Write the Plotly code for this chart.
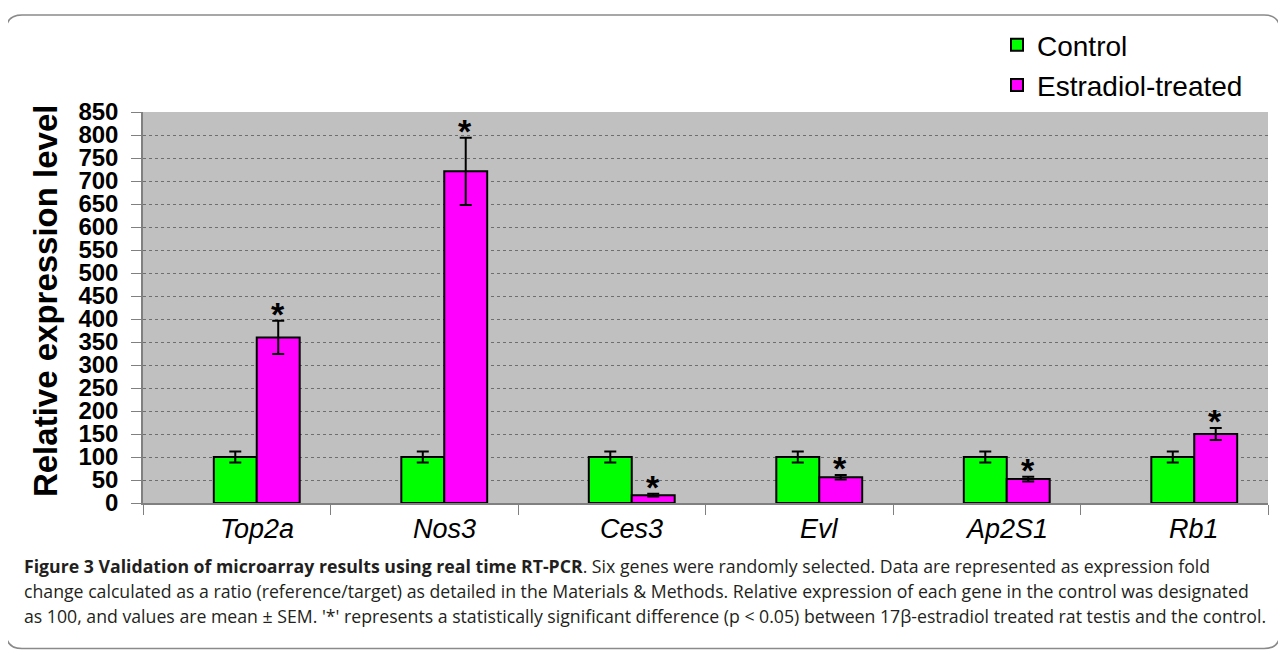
import plotly.graph_objects as go

genes = ["Top2a", "Nos3", "Ces3", "Evl", "Ap2S1", "Rb1"]
control = [100, 100, 100, 100, 100, 100]
control_err = [12, 12, 12, 12, 12, 12]
estradiol = [360, 721, 17, 56, 52, 150]
estradiol_err = [36, 73, 3, 5, 5, 13]
y_ticks = list(range(0, 851, 50))

O = 8  # page body margin
W, H = 1286 - O, 659 - O
# plot area in page pixels
L, R, T, B = 143, 1268, 108, 503
CAT = (R - L) / len(genes)       # pixels per category
BARW = 0.229                      # bar width in category units
SHIFT = 20                        # bars sit right of category centre (px)
sh = SHIFT / CAT


def px(x):
    return (x - L) / (R - L)


def py(y):
    return (B - y) / (B - T)


fig = go.Figure()
fig.add_trace(go.Bar(
    x=genes, y=control, name="Control", legendgroup="a",
    width=BARW, offset=sh - BARW,
    marker=dict(color="#00ff00", line=dict(color="black", width=2)),
    error_y=dict(type="data", array=control_err, color="black", thickness=2, width=6),
))
fig.add_trace(go.Bar(
    x=genes, y=estradiol, name="Estradiol-treated", legendgroup="b",
    width=BARW, offset=sh,
    marker=dict(color="#ff00ff", line=dict(color="black", width=2)),
    error_y=dict(type="data", array=estradiol_err, color="black", thickness=2, width=6),
))

for g, v, e in zip(genes, estradiol, estradiol_err):
    fig.add_annotation(x=g, y=v + e, text="<b>*</b>", showarrow=False,
                       xshift=SHIFT + 21, yshift=7, yanchor="middle",
                       font=dict(size=34, color="black", family="Liberation Sans, Arial"))

for g in genes:
    fig.add_annotation(x=g, y=0, text="<i>%s</i>" % g, showarrow=False,
                       xshift=SHIFT, yshift=-9, yanchor="top",
                       font=dict(size=27, color="black", family="Liberation Sans, Arial"))

fig.add_annotation(x=px(45), y=py(299), xref="paper", yref="paper",
                   text="<b>Relative expression level</b>", textangle=-90,
                   showarrow=False, xanchor="center", yanchor="middle",
                   font=dict(size=33, color="black", family="Liberation Sans, Arial"))

# rounded frame
x0, x1, y0, y1, r = px(6), px(1280), py(10), py(650), 16
rx, ry = r / (R - L), r / (B - T)
path = (f"M {x0+rx},{y0} L {x1-rx},{y0} Q {x1},{y0} {x1},{y0-ry} "
        f"L {x1},{y1+ry} Q {x1},{y1} {x1-rx},{y1} L {x0+rx},{y1} "
        f"Q {x0},{y1} {x0},{y1+ry} L {x0},{y0-ry} Q {x0},{y0} {x0+rx},{y0} Z")
fig.add_shape(type="path", path=path, xref="paper", yref="paper",
              line=dict(color="#8a8a8a", width=1.5), layer="below")

caption = [
    "<b>Figure 3 Validation of microarray results using real time RT-PCR</b>. Six genes were randomly selected. Data are represented as expression fold",
    "change calculated as a ratio (reference/target) as detailed in the Materials &amp; Methods. Relative expression of each gene in the control was designated",
    "as 100, and values are mean \u00b1 SEM. '*' represents a statistically significant difference (p &lt; 0.05) between 17\u03b2-estradiol treated rat testis and the control.",
]
for i, line in enumerate(caption):
    fig.add_annotation(x=px(22), y=py(567 + 25 * i), xref="paper", yref="paper",
                       text=line, showarrow=False, xanchor="left", yanchor="middle",
                       font=dict(size=17.7, color="#231f20", family="Open Sans"))

fig.update_layout(
    width=W, height=H,
    margin=dict(l=L - O, r=W - (R - O), t=T - O, b=H - (B - O), pad=0),
    paper_bgcolor="white", plot_bgcolor="#c0c0c0",
    barmode="group",
    font=dict(family="Liberation Sans, Arial", color="black"),
    legend=dict(x=px(997), y=py(15), xanchor="left", yanchor="top",
                font=dict(size=28, color="black"), tracegroupgap=1,
                bgcolor="rgba(0,0,0,0)", itemwidth=30),
    showlegend=True,
)
fig.update_xaxes(
    showline=True, linecolor="#808080", linewidth=1.5,
    ticks="outside", tickson="boundaries", ticklen=10, tickcolor="#808080",
    showticklabels=False, showgrid=False, range=[-0.5, len(genes) - 0.5],
)
fig.update_yaxes(
    range=[0, 850], tickvals=y_ticks, ticktext=["<b>%d</b>" % v for v in y_ticks],
    showline=True, linecolor="#808080", linewidth=1.5,
    ticks="outside", ticklen=10, tickcolor="#808080",
    tickfont=dict(size=24, color="black"), ticklabelstandoff=8,
    showgrid=True, gridcolor="#6e6e6e", griddash="dot", gridwidth=1,
    zeroline=False,
)

fig.write_html("out.html")
